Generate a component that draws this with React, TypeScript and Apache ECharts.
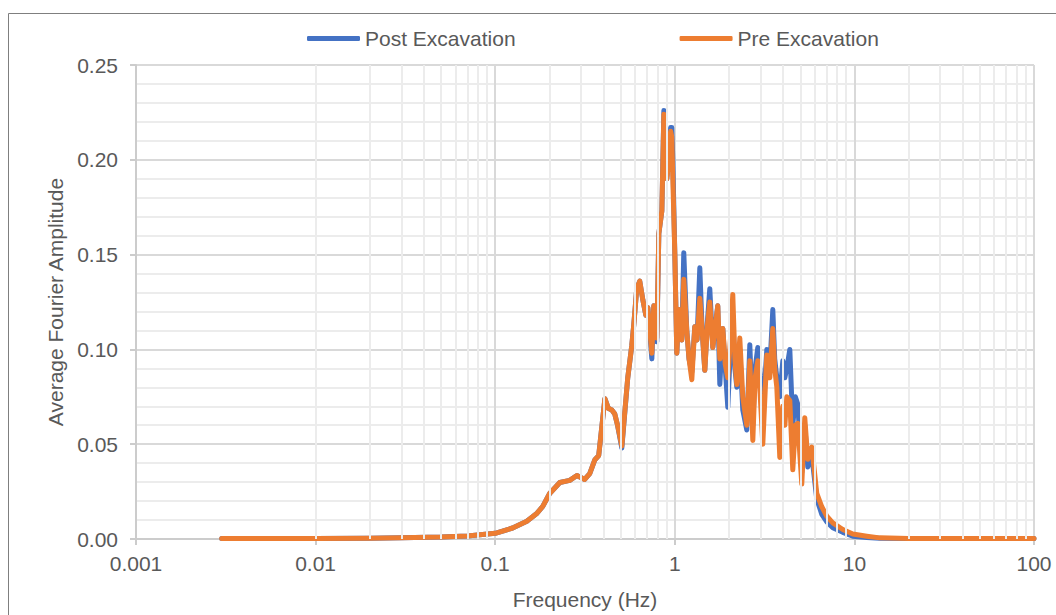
import React, { useEffect, useRef } from "react";
import * as echarts from "echarts";

const frequencies = [
  0.003, 0.005, 0.01, 0.02, 0.03, 0.05, 0.07, 0.1, 0.125, 0.15, 0.171, 0.184, 0.201, 0.229, 0.26, 0.285,
  0.315, 0.336, 0.359, 0.377, 0.408, 0.426, 0.446, 0.463, 0.48, 0.507, 0.547, 0.576, 0.591, 0.614, 0.638,
  0.664, 0.69, 0.708, 0.745, 0.764, 0.794, 0.815, 0.847, 0.869, 0.888, 0.903, 0.926, 0.948, 0.962, 0.975,
  1.0, 1.026, 1.053, 1.094, 1.122, 1.166, 1.2, 1.244, 1.292, 1.33, 1.378, 1.42, 1.469, 1.52, 1.566, 1.628,
  1.68, 1.735, 1.781, 1.851, 1.91, 1.973, 2.04, 2.103, 2.16, 2.214, 2.301, 2.391, 2.517, 2.616, 2.719, 2.8,
  2.898, 2.973, 3.09, 3.253, 3.381, 3.513, 3.6, 3.699, 3.843, 3.994, 4.1, 4.204, 4.369, 4.539, 4.69, 4.84,
  5.094, 5.293, 5.501, 5.791, 6.175, 6.585, 7.022, 7.58, 8.62, 9.8, 11.72, 13.85, 20, 40, 100,
];

const preExcavation = [
  0.0002, 0.0002, 0.0003, 0.0004, 0.0006, 0.001, 0.0016, 0.003, 0.0058, 0.0094, 0.0136, 0.0172, 0.024, 0.0298, 0.0309, 0.0335,
  0.0314, 0.0345, 0.0418, 0.044, 0.074, 0.069, 0.068, 0.066, 0.06, 0.049, 0.085, 0.102, 0.113, 0.132, 0.136,
  0.126, 0.118, 0.122, 0.098, 0.123, 0.106, 0.161, 0.173, 0.224, 0.215, 0.19, 0.2, 0.215, 0.212, 0.19,
  0.151, 0.098, 0.121, 0.105, 0.137, 0.11, 0.095, 0.084, 0.112, 0.105, 0.127, 0.11, 0.089, 0.113, 0.125, 0.101,
  0.112, 0.123, 0.095, 0.111, 0.092, 0.085, 0.105, 0.129, 0.095, 0.0815, 0.106, 0.075, 0.06, 0.094, 0.052, 0.085,
  0.094, 0.08, 0.05, 0.097, 0.085, 0.111, 0.09, 0.08, 0.043, 0.07, 0.06, 0.075, 0.073, 0.0365, 0.06, 0.061,
  0.029, 0.064, 0.042, 0.0485, 0.024, 0.017, 0.012, 0.0085, 0.005, 0.0026, 0.0015, 0.0006, 0.0003, 0.0002, 0.0002,
];

const postExcavation = [
  0.0002, 0.0002, 0.0003, 0.0004, 0.0006, 0.001, 0.0016, 0.003, 0.0058, 0.0094, 0.0136, 0.0172, 0.024, 0.0298, 0.0309, 0.0335,
  0.0314, 0.0345, 0.0418, 0.044, 0.074, 0.069, 0.068, 0.066, 0.06, 0.048, 0.085, 0.102, 0.113, 0.132, 0.136,
  0.126, 0.118, 0.122, 0.095, 0.123, 0.104, 0.161, 0.173, 0.226, 0.215, 0.19, 0.2, 0.217, 0.217, 0.2,
  0.151, 0.098, 0.121, 0.105, 0.151, 0.11, 0.095, 0.088, 0.112, 0.105, 0.143, 0.11, 0.089, 0.115, 0.132, 0.101,
  0.112, 0.123, 0.0815, 0.111, 0.09, 0.0695, 0.1, 0.118, 0.09, 0.08, 0.1, 0.068, 0.0575, 0.1025, 0.06, 0.09,
  0.101, 0.09, 0.065, 0.1, 0.09, 0.121, 0.095, 0.085, 0.075, 0.094, 0.085, 0.09, 0.1, 0.06, 0.075, 0.071,
  0.035, 0.06, 0.038, 0.044, 0.021, 0.013, 0.009, 0.006, 0.0035, 0.0015, 0.0008, 0.0004, 0.0003, 0.0002, 0.0002,
];

const decades = [0.001, 0.01, 0.1, 1, 10];
const minorSteps = [2, 3, 4, 5, 6, 7, 8, 9];

const seriesNames = ["Post Excavation", "Pre Excavation"];
const seriesColors = ["#4472C4", "#ED7D31"];

export default function App() {
  const ref = useRef<HTMLDivElement>(null);

  useEffect(() => {
    if (!ref.current) return;
    const chart = echarts.init(ref.current, undefined, { renderer: "svg" });
    const font = "'Liberation Sans', Arial, sans-serif";
    const textColor = "#595959";
    const minorLines: any[] = [];
    decades.forEach((d) => minorSteps.forEach((k) => minorLines.push({ xAxis: parseFloat((d * k).toPrecision(6)) })));

    const toPairs = (vals: number[]) => frequencies.map((f, i) => [f, vals[i]]);

    chart.setOption({
      animation: false,
      backgroundColor: "#ffffff",
      textStyle: { fontFamily: font },
      graphic: [
        {
          type: "rect",
          shape: { x: 8.5, y: 13.5, width: 1100, height: 700 },
          style: { fill: "none", stroke: "#7f7f7f", lineWidth: 1 },
          silent: true,
        },
      ],
      legend: {
        data: seriesNames,
        left: 302,
        top: 23,
        itemGap: 164,
        itemWidth: 53,
        itemHeight: 5,
        icon: "roundRect",
        textStyle: { fontSize: 21, color: textColor, fontFamily: font },
      },
      grid: { left: 136, right: 22, top: 65, bottom: 72, containLabel: false },
      xAxis: {
        type: "log",
        logBase: 10,
        min: 0.001,
        max: 100,
        name: "Frequency (Hz)",
        nameLocation: "middle",
        nameGap: 50,
        nameTextStyle: { fontSize: 21, color: textColor, fontFamily: font },
        axisLine: { show: true, lineStyle: { color: "#cccccc", width: 2 } },
        axisTick: { show: true, length: 6, lineStyle: { color: "#cccccc", width: 2 } },
        axisLabel: {
          fontSize: 21,
          color: textColor,
          margin: 14,
          formatter: (v: number) => String(parseFloat(v.toPrecision(6))),
        },
        splitLine: { show: true, lineStyle: { color: "#d9d9d9", width: 2 } },
      },
      yAxis: {
        type: "value",
        min: 0,
        max: 0.25,
        interval: 0.05,
        name: "Average Fourier Amplitude",
        nameLocation: "middle",
        nameGap: 67,
        nameTextStyle: { fontSize: 21, color: textColor, fontFamily: font },
        axisLine: { show: true, lineStyle: { color: "#cccccc", width: 2 } },
        axisTick: { show: true, length: 6, lineStyle: { color: "#cccccc", width: 2 } },
        axisLabel: {
          fontSize: 21,
          color: textColor,
          margin: 18,
          formatter: (v: number) => v.toFixed(2),
        },
        splitLine: { show: true, lineStyle: { color: "#d9d9d9", width: 2 } },
        minorTick: { show: false, splitNumber: 5 },
        minorSplitLine: { show: true, lineStyle: { color: "#ececec", width: 2 } },
      },
      series: [
        {
          name: "minor-grid",
          type: "line",
          data: [],
          z: 1,
          silent: true,
          markLine: {
            silent: true,
            symbol: ["none", "none"],
            label: { show: false },
            lineStyle: { color: "#ececec", width: 2, type: "solid" },
            emphasis: { disabled: true },
            data: minorLines,
          },
        },
        {
          name: seriesNames[0],
          type: "line",
          data: toPairs(postExcavation),
          showSymbol: false,
          symbol: "none",
          z: 3,
          itemStyle: { color: seriesColors[0] },
          lineStyle: { color: seriesColors[0], width: 5, cap: "round", join: "round" },
        },
        {
          name: seriesNames[1],
          type: "line",
          data: toPairs(preExcavation),
          showSymbol: false,
          symbol: "none",
          z: 4,
          itemStyle: { color: seriesColors[1] },
          lineStyle: { color: seriesColors[1], width: 5, cap: "round", join: "round" },
        },
      ],
    });

    return () => chart.dispose();
  }, []);

  return (
    <div
      ref={ref}
      style={{ position: "absolute", left: 0, top: 0, width: 1056, height: 615 }}
    />
  );
}
